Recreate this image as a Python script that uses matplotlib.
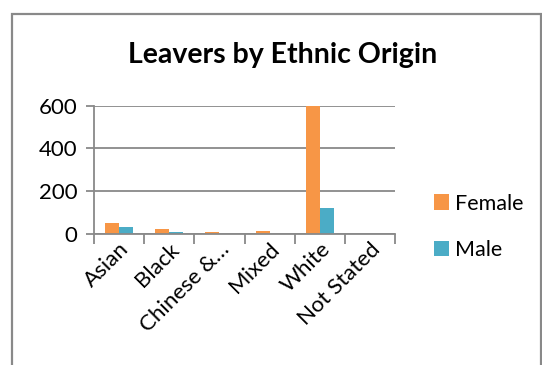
import numpy as np
import matplotlib
matplotlib.use("Agg")
import matplotlib.pyplot as plt
from matplotlib.patches import Rectangle

categories = ["Asian", "Black", "Chinese &\u2026", "Mixed", "White", "Not Stated"]
female = [47, 19, 6, 11, 600, 0]
male = [31, 6, 0, 0, 119, 0]

plt.rcParams['font.family'] = ['Lato', 'DejaVu Sans']
grey = "#898989"

fig = plt.figure(figsize=(5.42, 3.65), dpi=100)
fig.patches.append(Rectangle((12/542, -0.1), 529/542, 1.1 - 14/365, transform=fig.transFigure,
                             fill=False, edgecolor=grey, linewidth=1.6))

ax = fig.add_axes([94/542, 1 - 233.5/365, 301/542, 127.8/365])
x = np.arange(len(categories))
w = 0.28
ax.bar(x - w/2, female, w, color="#F79646", label="Female")
ax.bar(x + w/2, male, w, color="#4BACC6", label="Male")

ax.set_xlim(-0.5, len(categories) - 0.5)
ax.set_ylim(0, 600)
ax.set_yticks([0, 200, 400, 600])
ax.yaxis.grid(True, color=grey, linewidth=1.3)
ax.set_axisbelow(True)
for s in ["top", "right"]:
    ax.spines[s].set_visible(False)
for s in ["left", "bottom"]:
    ax.spines[s].set_color(grey)
    ax.spines[s].set_linewidth(1.3)
ax.tick_params(axis="y", length=6, width=1.3, color=grey, labelsize=16, pad=6)
ax.tick_params(axis="x", which="major", length=0, labelsize=16, pad=4)
ax.set_xticks(x)
ax.set_xticklabels(categories, rotation=45, ha="right", rotation_mode="anchor")
ax.set_xticks(np.arange(len(categories) + 1) - 0.5, minor=True)
ax.tick_params(axis="x", which="minor", length=7, width=1.3, color=grey)

fig.text(283/542, 1 - 55/365, "Leavers by Ethnic Origin", ha="center", va="center",
         fontsize=20.5, fontweight="bold")

fig.legend(loc="center left", bbox_to_anchor=(425/542, 1 - 227/365), frameon=False,
           fontsize=15.5, handlelength=0.7, handleheight=0.7, handletextpad=0.3,
           labelspacing=1.25, borderaxespad=0)

fig.savefig("out.png", dpi=100)
